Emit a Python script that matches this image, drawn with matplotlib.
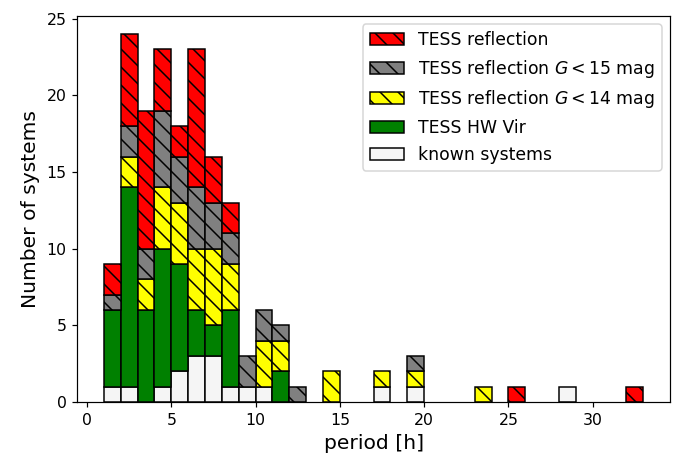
import numpy as np
import matplotlib
matplotlib.use("Agg")
import matplotlib.pyplot as plt

# bin left edges [h], width 1 h
bin_left = [1, 2, 3, 4, 5, 6, 7, 8, 9, 10, 11, 12, 14, 17, 19, 23, 25, 28, 32]
known    = [1, 1, 0, 1, 2, 3, 3, 1, 1, 1, 0, 0, 0, 1, 1, 0, 0, 1, 0]
hwvir    = [5, 13, 6, 9, 7, 3, 2, 5, 0, 0, 2, 0, 0, 0, 0, 0, 0, 0, 0]
refl14   = [0, 2, 2, 4, 4, 4, 5, 3, 0, 3, 2, 0, 2, 1, 1, 1, 0, 0, 0]
refl15   = [1, 2, 2, 5, 3, 4, 3, 2, 2, 2, 1, 1, 0, 0, 1, 0, 0, 0, 0]
refl     = [2, 6, 9, 4, 2, 9, 3, 2, 0, 0, 0, 0, 0, 0, 0, 0, 1, 0, 1]

series = [
    (known, "whitesmoke", "", "known systems"),
    (hwvir, "green", "", "TESS HW Vir"),
    (refl14, "yellow", "\\\\", r"TESS reflection $G<14$ mag"),
    (refl15, "grey", "\\\\", r"TESS reflection $G<15$ mag"),
    (refl, "red", "\\\\", "TESS reflection"),
]

dpi = 108
fig = plt.figure(figsize=(678 / dpi, 460 / dpi), dpi=dpi)
ax = fig.add_axes([0.1135, 0.126, 0.875, 0.84])

x = np.array(bin_left, dtype=float)
bottom = np.zeros(len(x))
handles = []
for vals, color, hatch, label in series:
    v = np.array(vals, dtype=float)
    mask = v > 0
    b = ax.bar(x[mask], v[mask], width=1.0, bottom=bottom[mask], align="edge",
               color=color, edgecolor="black", linewidth=1.0, hatch=hatch, label=label)
    handles.append(b)
    bottom += v

ax.set_xlim(-0.6, 34.6)
ax.set_ylim(0, 25.2)
ax.set_xticks([0, 5, 10, 15, 20, 25, 30])
ax.set_yticks([0, 5, 10, 15, 20, 25])
ax.tick_params(labelsize=10.5)
ax.set_xlabel("period [h]", fontsize=13.5)
ax.set_ylabel("Number of systems", fontsize=13.5)

ax.legend(handles[::-1], [s[3] for s in series][::-1], loc="upper right", fontsize=11.5)

fig.savefig("out.png", dpi=dpi)
